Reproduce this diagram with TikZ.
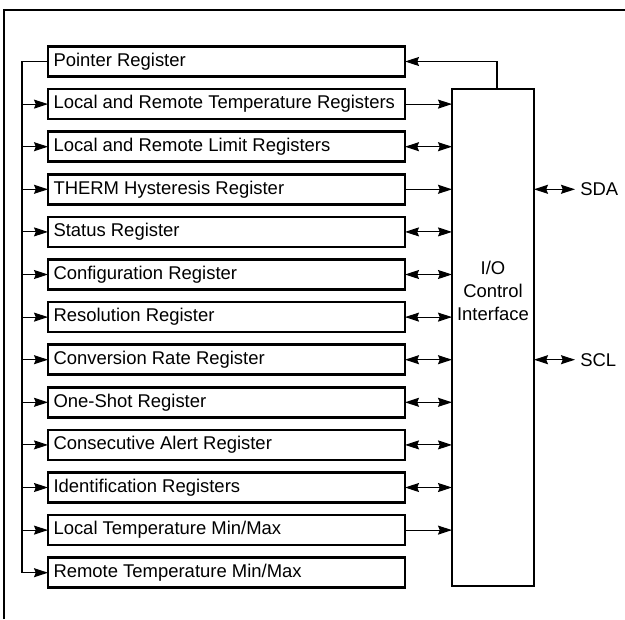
\documentclass[tikz,border=0pt]{standalone}
\usepackage{fontspec}
\setmainfont{Liberation Sans}
\usetikzlibrary{positioning,arrows.meta}

\begin{document}
\begin{tikzpicture}[
  node distance=0.252cm,
  >={Stealth[length=2.8mm,width=1.8mm,inset=0.35mm]},
  font=\fontsize{10.5}{13}\selectfont,
  reg/.style={draw, line width=1.4pt, outer sep=0pt, minimum height=0.6cm, text width=6.92cm, inner xsep=0.11cm, align=flush left},
  arrow/.style={->, line width=0.6pt},
  both/.style={<->, line width=0.6pt}
]
\useasboundingbox (0,0) rectangle (12.5,-12.38);
\draw[line width=1.1pt] (0.08,-12.38) |- (12.5,-0.2);

\node[reg] (ptr) at (4.53,-1.23) {Pointer Register};
\node[reg, below=of ptr] (lrt) {Local and Remote Temperature Registers};
\node[reg, below=of lrt] (lim) {Local and Remote Limit Registers};
\node[reg, below=of lim] (therm) {THERM Hysteresis Register};
\node[reg, below=of therm] (stat) {Status Register};
\node[reg, below=of stat] (config) {Configuration Register};
\node[reg, below=of config] (res) {Resolution Register};
\node[reg, below=of res] (conv) {Conversion Rate Register};
\node[reg, below=of conv] (oneshot) {One-Shot Register};
\node[reg, below=of oneshot] (alert) {Consecutive Alert Register};
\node[reg, below=of alert] (ident) {Identification Registers};
\node[reg, below=of ident] (lmm) {Local Temperature Min/Max};
\node[reg, below=of lmm] (rmm) {Remote Temperature Min/Max};

\node[draw, line width=1.4pt, outer sep=0pt, minimum width=1.64cm, minimum height=9.94cm,
  right=0.94cm of lrt.north east, anchor=north west,
  label={[align=center, yshift=0.93cm]center:I/O\\Control\\Interface}] (io) {};

% pointer bus on the left
\coordinate[left=0.52cm of rmm.west] (bus);
\draw[arrow] (ptr.west) -| (bus) -- (rmm.west);
\draw[arrow] (bus |- lrt.west) -- (lrt.west);
\draw[arrow] (bus |- lim.west) -- (lim.west);
\draw[arrow] (bus |- therm.west) -- (therm.west);
\draw[arrow] (bus |- stat.west) -- (stat.west);
\draw[arrow] (bus |- config.west) -- (config.west);
\draw[arrow] (bus |- res.west) -- (res.west);
\draw[arrow] (bus |- conv.west) -- (conv.west);
\draw[arrow] (bus |- oneshot.west) -- (oneshot.west);
\draw[arrow] (bus |- alert.west) -- (alert.west);
\draw[arrow] (bus |- ident.west) -- (ident.west);
\draw[arrow] (bus |- lmm.west) -- (lmm.west);

% registers to I/O
\draw[arrow] ([xshift=0.08cm]io.north) |- (ptr.east);
\draw[arrow] (lrt.east) -- (lrt.east -| io.west);
\draw[both] (lim.east) -- (lim.east -| io.west);
\draw[arrow] (therm.east) -- (therm.east -| io.west);
\draw[both] (stat.east) -- (stat.east -| io.west);
\draw[both] (config.east) -- (config.east -| io.west);
\draw[both] (res.east) -- (res.east -| io.west);
\draw[both] (conv.east) -- (conv.east -| io.west);
\draw[both] (oneshot.east) -- (oneshot.east -| io.west);
\draw[both] (alert.east) -- (alert.east -| io.west);
\draw[both] (ident.east) -- (ident.east -| io.west);
\draw[arrow] (lmm.east) -- (lmm.east -| io.west);

% serial bus
\coordinate (sdaport) at (io.east |- therm.east);
\coordinate (sclport) at (io.east |- conv.east);
\node[right=0.82cm of sdaport, inner xsep=2.8pt] (sda) {SDA};
\node[right=0.82cm of sclport, inner xsep=2.8pt] (scl) {SCL};
\draw[both] (sdaport) -- (sda);
\draw[both] (sclport) -- (scl);
\end{tikzpicture}
\end{document}
